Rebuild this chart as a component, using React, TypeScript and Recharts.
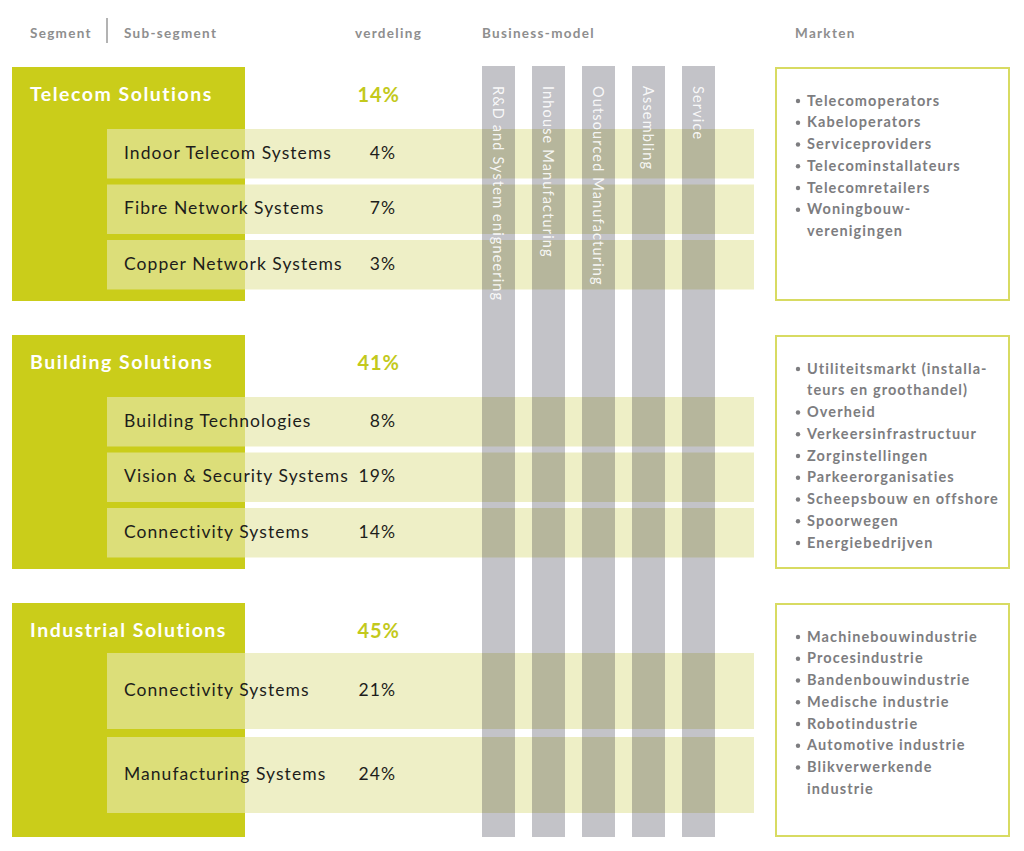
import { ComposedChart, XAxis, YAxis, ReferenceArea, ReferenceLine, Scatter } from 'recharts';

const W = 1024;
const H = 851;
const FONT = 'Lato, "Open Sans", sans-serif';

// ---- data ----
const headers = ['Segment', 'Sub-segment', 'verdeling', 'Business-model', 'Markten'];
const segments = ['Telecom Solutions', 'Building Solutions', 'Industrial Solutions'];
const segmentShares = [14, 41, 45];
const subSegments = [
  ['Indoor Telecom Systems', 'Fibre Network Systems', 'Copper Network Systems'],
  ['Building Technologies', 'Vision & Security Systems', 'Connectivity Systems'],
  ['Connectivity Systems', 'Manufacturing Systems'],
];
const subShares = [
  [4, 7, 3],
  [8, 19, 14],
  [21, 24],
];
const businessModels = [
  'R&D and System enigneering',
  'Inhouse Manufacturing',
  'Outsourced Manufacturing',
  'Assembling',
  'Service',
];
const markets = [
  [['Telecomoperators'], ['Kabeloperators'], ['Serviceproviders'], ['Telecominstallateurs'], ['Telecomretailers'], ['Woningbouw-', 'verenigingen']],
  [['Utiliteitsmarkt (installa-', 'teurs en groothandel)'], ['Overheid'], ['Verkeersinfrastructuur'], ['Zorginstellingen'], ['Parkeerorganisaties'], ['Scheepsbouw en offshore'], ['Spoorwegen'], ['Energiebedrijven']],
  [['Machinebouwindustrie'], ['Procesindustrie'], ['Bandenbouwindustrie'], ['Medische industrie'], ['Robotindustrie'], ['Automotive industrie'], ['Blikverwerkende', 'industrie']],
];

// ---- layout ----
const HEADER_Y = 33;
const HEADER_X = [30, 124, 355, 482, 795];
const SEG_TOP = [67, 335, 603];
const SEG_H = 234;
const SEG_X = [12, 245];
const ROW_X = [107, 754];
const COL_X0 = 482;
const COL_W = 33;
const COL_STEP = 50;
const COL_Y = [66, 837];
const MKT_X = [776, 1009];
const MKT_LINE = 21.75;

const rowLayout = (n: number) => (n > 2 ? { start: 62, h: 49.5, step: 55.5 } : { start: 50, h: 76, step: 84 });

const rows = subSegments.flatMap((names, i) => {
  const l = rowLayout(names.length);
  return names.map((name, j) => {
    const y1 = SEG_TOP[i] + l.start + j * l.step;
    return { name, share: subShares[i][j], y1, y2: y1 + l.h, yc: y1 + l.h / 2 - 1.5 };
  });
});

const headerPts = headers.map((label, i) => ({ x: HEADER_X[i], y: HEADER_Y, label }));
const segNamePts = segments.map((label, i) => ({ x: 30, y: SEG_TOP[i] + 26.5, label }));
const segSharePts = segmentShares.map((v, i) => ({ x: 400, y: SEG_TOP[i] + 26.5, label: `${v}%` }));
const subNamePts = rows.map((r) => ({ x: 124, y: r.yc, label: r.name }));
const subSharePts = rows.map((r) => ({ x: 396, y: r.yc, label: `${r.share}%` }));
const modelPts = businessModels.map((label, i) => ({ x: COL_X0 + i * COL_STEP + COL_W / 2, y: 86, label }));
const marketPts = markets.flatMap((items, i) => {
  const out: { x: number; y: number; label: string; bullet: boolean }[] = [];
  let k = 0;
  items.forEach((lines) =>
    lines.forEach((label, li) => {
      out.push({ x: 807, y: SEG_TOP[i] + 33 + k * MKT_LINE, label, bullet: li === 0 });
      k++;
    })
  );
  return out;
});

const textShape = (style: any) => (p: any) => (
  <text x={p.cx} y={p.cy} dominantBaseline="central" fontFamily={FONT} {...style}>
    {p.payload.label}
  </text>
);

const modelShape = (p: any) => (
  <text
    x={p.cx}
    y={p.cy}
    transform={`rotate(90 ${p.cx} ${p.cy})`}
    dominantBaseline="central"
    fontFamily={FONT}
    fontSize={14.5}
    fill="#ffffff"
    fillOpacity={0.9}
    letterSpacing={1.15}
  >
    {p.payload.label}
  </text>
);

const marketShape = (p: any) => (
  <g>
    {p.payload.bullet && <circle cx={p.cx - 9} cy={p.cy + 1} r={2.2} fill="#7d7d80" />}
    <text x={p.cx} y={p.cy} dominantBaseline="central" fontFamily={FONT} fontSize={14.5} fontWeight={700} fill="#7d7d80" letterSpacing={1.1}>
      {p.payload.label}
    </text>
  </g>
);

export default function App() {
  return (
    <div style={{ position: 'absolute', left: 0, top: 0, background: '#fff' }}>
      <ComposedChart width={W} height={H} margin={{ top: 0, right: 0, bottom: 0, left: 0 }}>
        <XAxis type="number" dataKey="x" domain={[0, W]} hide allowDataOverflow />
        <YAxis type="number" dataKey="y" domain={[0, H]} reversed hide allowDataOverflow />

        <ReferenceLine segment={[{ x: 107, y: 18 }, { x: 107, y: 43 }]} stroke="#9a9a9a" strokeWidth={1.5} />

        {segments.map((s, i) => (
          <ReferenceArea key={s} x1={SEG_X[0]} x2={SEG_X[1]} y1={SEG_TOP[i]} y2={SEG_TOP[i] + SEG_H} fill="#cacd1a" fillOpacity={1} stroke="none" />
        ))}
        {rows.map((r, i) => (
          <ReferenceArea key={i} x1={ROW_X[0]} x2={ROW_X[1]} y1={r.y1} y2={r.y2} fill="rgb(230,231,169)" fillOpacity={0.665} stroke="none" />
        ))}
        {businessModels.map((m, i) => (
          <ReferenceArea key={m} x1={COL_X0 + i * COL_STEP} x2={COL_X0 + i * COL_STEP + COL_W} y1={COL_Y[0]} y2={COL_Y[1]} fill="rgb(0,0,21)" fillOpacity={0.235} stroke="none" />
        ))}
        {segments.map((s, i) => (
          <ReferenceArea key={'m' + s} x1={MKT_X[0]} x2={MKT_X[1]} y1={SEG_TOP[i] + 1} y2={SEG_TOP[i] + SEG_H - 1} fill="none" stroke="#d8db62" strokeWidth={2} />
        ))}

        <Scatter data={headerPts} isAnimationActive={false} shape={textShape({ fontSize: 13.5, fontWeight: 700, fill: '#8e8e8e', letterSpacing: 1.3 })} />
        <Scatter data={segNamePts} isAnimationActive={false} shape={textShape({ fontSize: 19.5, fontWeight: 700, fill: '#ffffff', letterSpacing: 1.5 })} />
        <Scatter data={segSharePts} isAnimationActive={false} shape={textShape({ fontSize: 20, fontWeight: 700, fill: '#c3c91c', textAnchor: 'end', letterSpacing: 1 })} />
        <Scatter data={subNamePts} isAnimationActive={false} shape={textShape({ fontSize: 17.5, fontWeight: 400, fill: '#1d1d1b', letterSpacing: 1.05 })} />
        <Scatter data={subSharePts} isAnimationActive={false} shape={textShape({ fontSize: 17.5, fontWeight: 400, fill: '#1d1d1b', textAnchor: 'end', letterSpacing: 1.05 })} />
        <Scatter data={modelPts} isAnimationActive={false} shape={modelShape} />
        <Scatter data={marketPts} isAnimationActive={false} shape={marketShape} />
      </ComposedChart>
    </div>
  );
}
